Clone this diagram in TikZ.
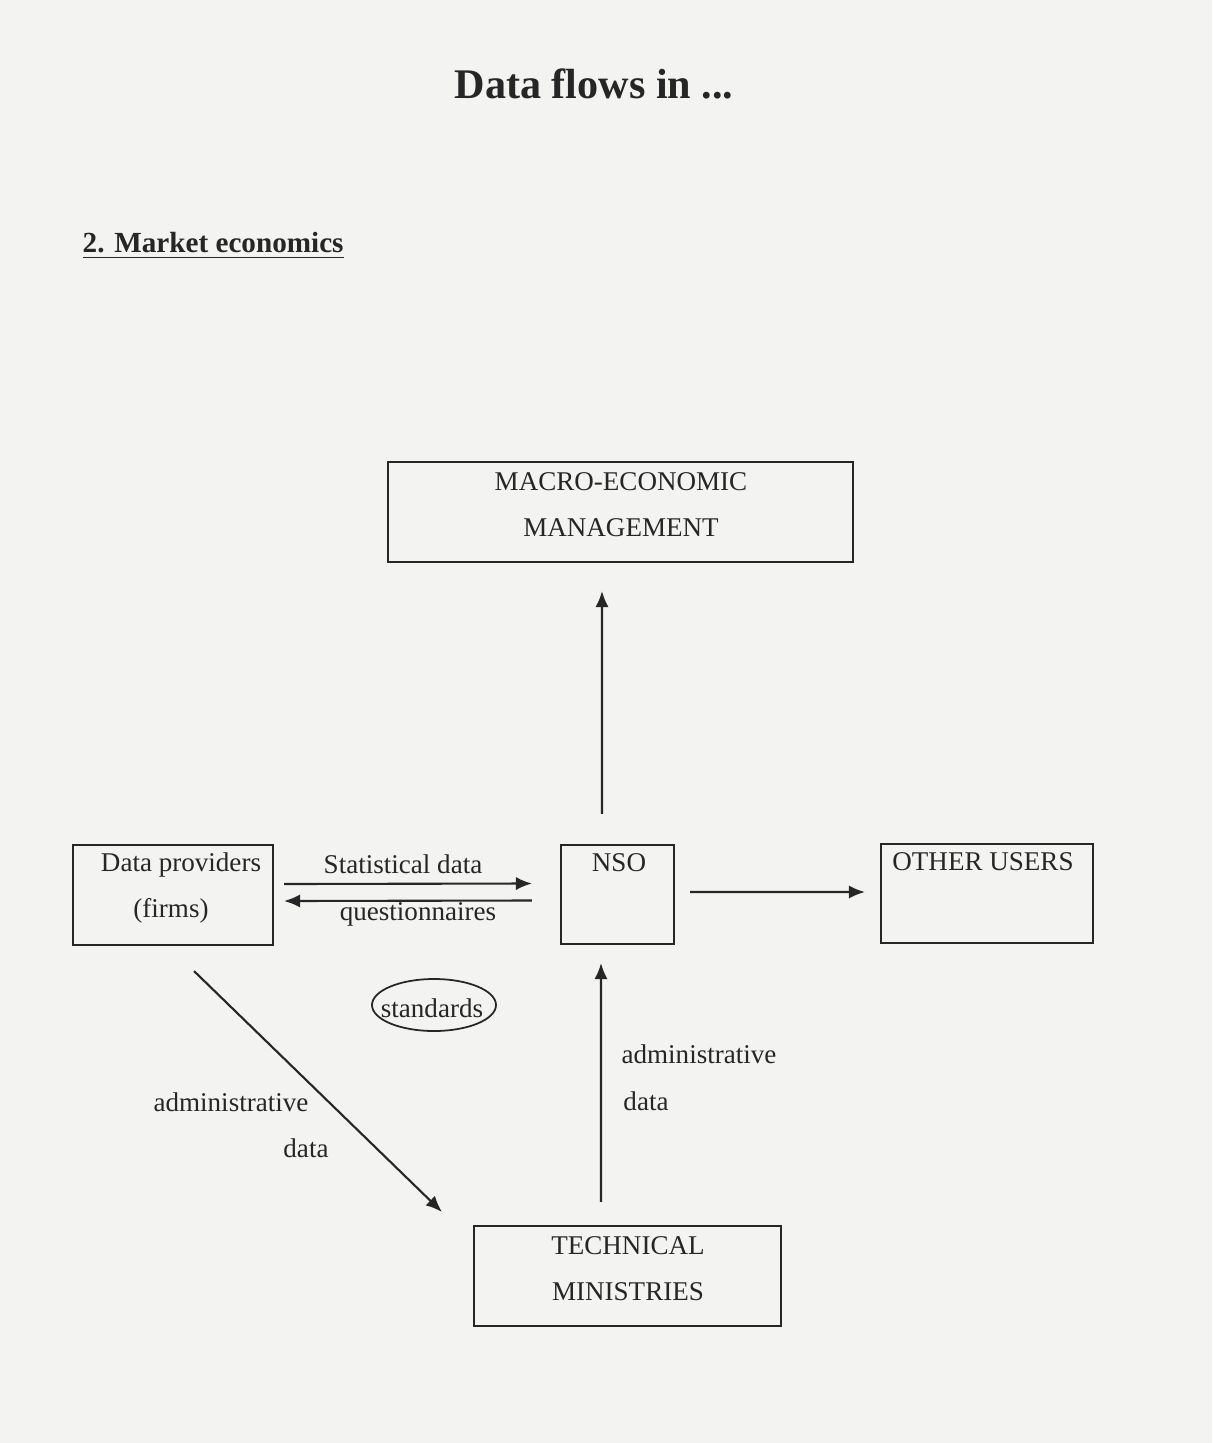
\documentclass[tikz,border=0pt]{standalone}
\usepackage{fontspec}
\setmainfont{Liberation Serif}
\usepackage{tikz}
\usetikzlibrary{arrows.meta}
\usetikzlibrary{shapes.geometric}
\definecolor{paper}{RGB}{243,243,241}
\definecolor{ink}{RGB}{38,38,38}

\begin{document}
\begin{tikzpicture}[every node/.style={font=\fontsize{7.7}{13.1}\selectfont, text=ink},
		box/.style={draw=ink, line width=0.6pt, inner sep=0pt},
		flow/.style={draw=ink, line width=0.6pt, -{Latex[length=4.6pt,width=3.8pt]}}]
					\fill[paper] (0,0) rectangle (12.12,-14.43);
					\useasboundingbox (0,0) rectangle (12.12,-14.43);
					
					% headings
					\node (title) at (5.94,-0.84) {\fontsize{12}{14}\selectfont\bfseries Data flows in ...};
					\node[anchor=west, inner sep=0pt] (part) at (0.82,-2.46) {\fontsize{8.3}{10}\selectfont\bfseries\underline{2. Market economics}};
					
					% boxes
					\node[box, minimum width=4.65cm, minimum height=1.0cm] (macro) at (6.205,-5.12) {};
					\node[box, minimum width=2.0cm, minimum height=1.0cm] (dp) at (1.73,-8.95) {};
					\node[box, minimum width=1.13cm, minimum height=0.99cm] (nso) at (6.175,-8.945) {};
					\node[box, minimum width=2.12cm, minimum height=0.99cm] (other) at (9.87,-8.935) {};
					\node[box, minimum width=3.07cm, minimum height=1.0cm] (tech) at (6.275,-12.76) {};
					\node[draw=ink, line width=0.5pt, ellipse, minimum width=1.24cm, minimum height=0.52cm, inner sep=0pt] (std) at (4.34,-10.05) {};
					
					% box texts
					\node[align=center] (macrotxt) at (6.21,-5.05) {MACRO-ECONOMIC\\MANAGEMENT};
					\node (dptxt) at (1.81,-8.65) {Data providers};
					\node (firmstxt) at (1.71,-9.11) {(firms)};
					\node (nsotxt) at (6.19,-8.63) {NSO};
					\node (othertxt) at (9.83,-8.62) {OTHER USERS};
					\node[align=center] (techtxt) at (6.28,-12.685) {TECHNICAL\\MINISTRIES};
					\node (stdtxt) at (4.32,-10.08) {standards};
					
					% flows
					\draw[flow] ([shift={(0.10,0.11)}]dp.east) -- ([shift={(-0.28,0.11)}]nso.west)
						node[midway, above=-0.7pt, xshift=-0.05cm] {Statistical data};
					\draw[flow] ([shift={(-0.28,-0.06)}]nso.west) -- ([shift={(0.10,-0.06)}]dp.east)
						node[midway, below=-3pt, xshift=0.1cm] {questionnaires};
					\draw[flow] ([shift={(-0.155,0.30)}]nso.north) -- ([shift={(-0.185,-0.28)}]macro.south);
					\draw[flow] ([shift={(0.15,0.025)}]nso.east) -- ([shift={(-0.15,0.015)}]other.west);
					\draw[flow] ([shift={(0.21,-0.25)}]dp.south) -- ([shift={(-0.31,0.13)}]tech.north west);
					\draw[flow] ([shift={(-0.265,0.23)}]tech.north) -- ([shift={(-0.165,-0.18)}]nso.south);
					
					% flow labels
					\node (adm1) at (2.31,-11.02) {administrative};
					\node (dat1) at (3.06,-11.48) {data};
					\node (adm2) at (6.99,-10.54) {administrative};
					\node (dat2) at (6.46,-11.01) {data};
				\end{tikzpicture}
\end{document}
